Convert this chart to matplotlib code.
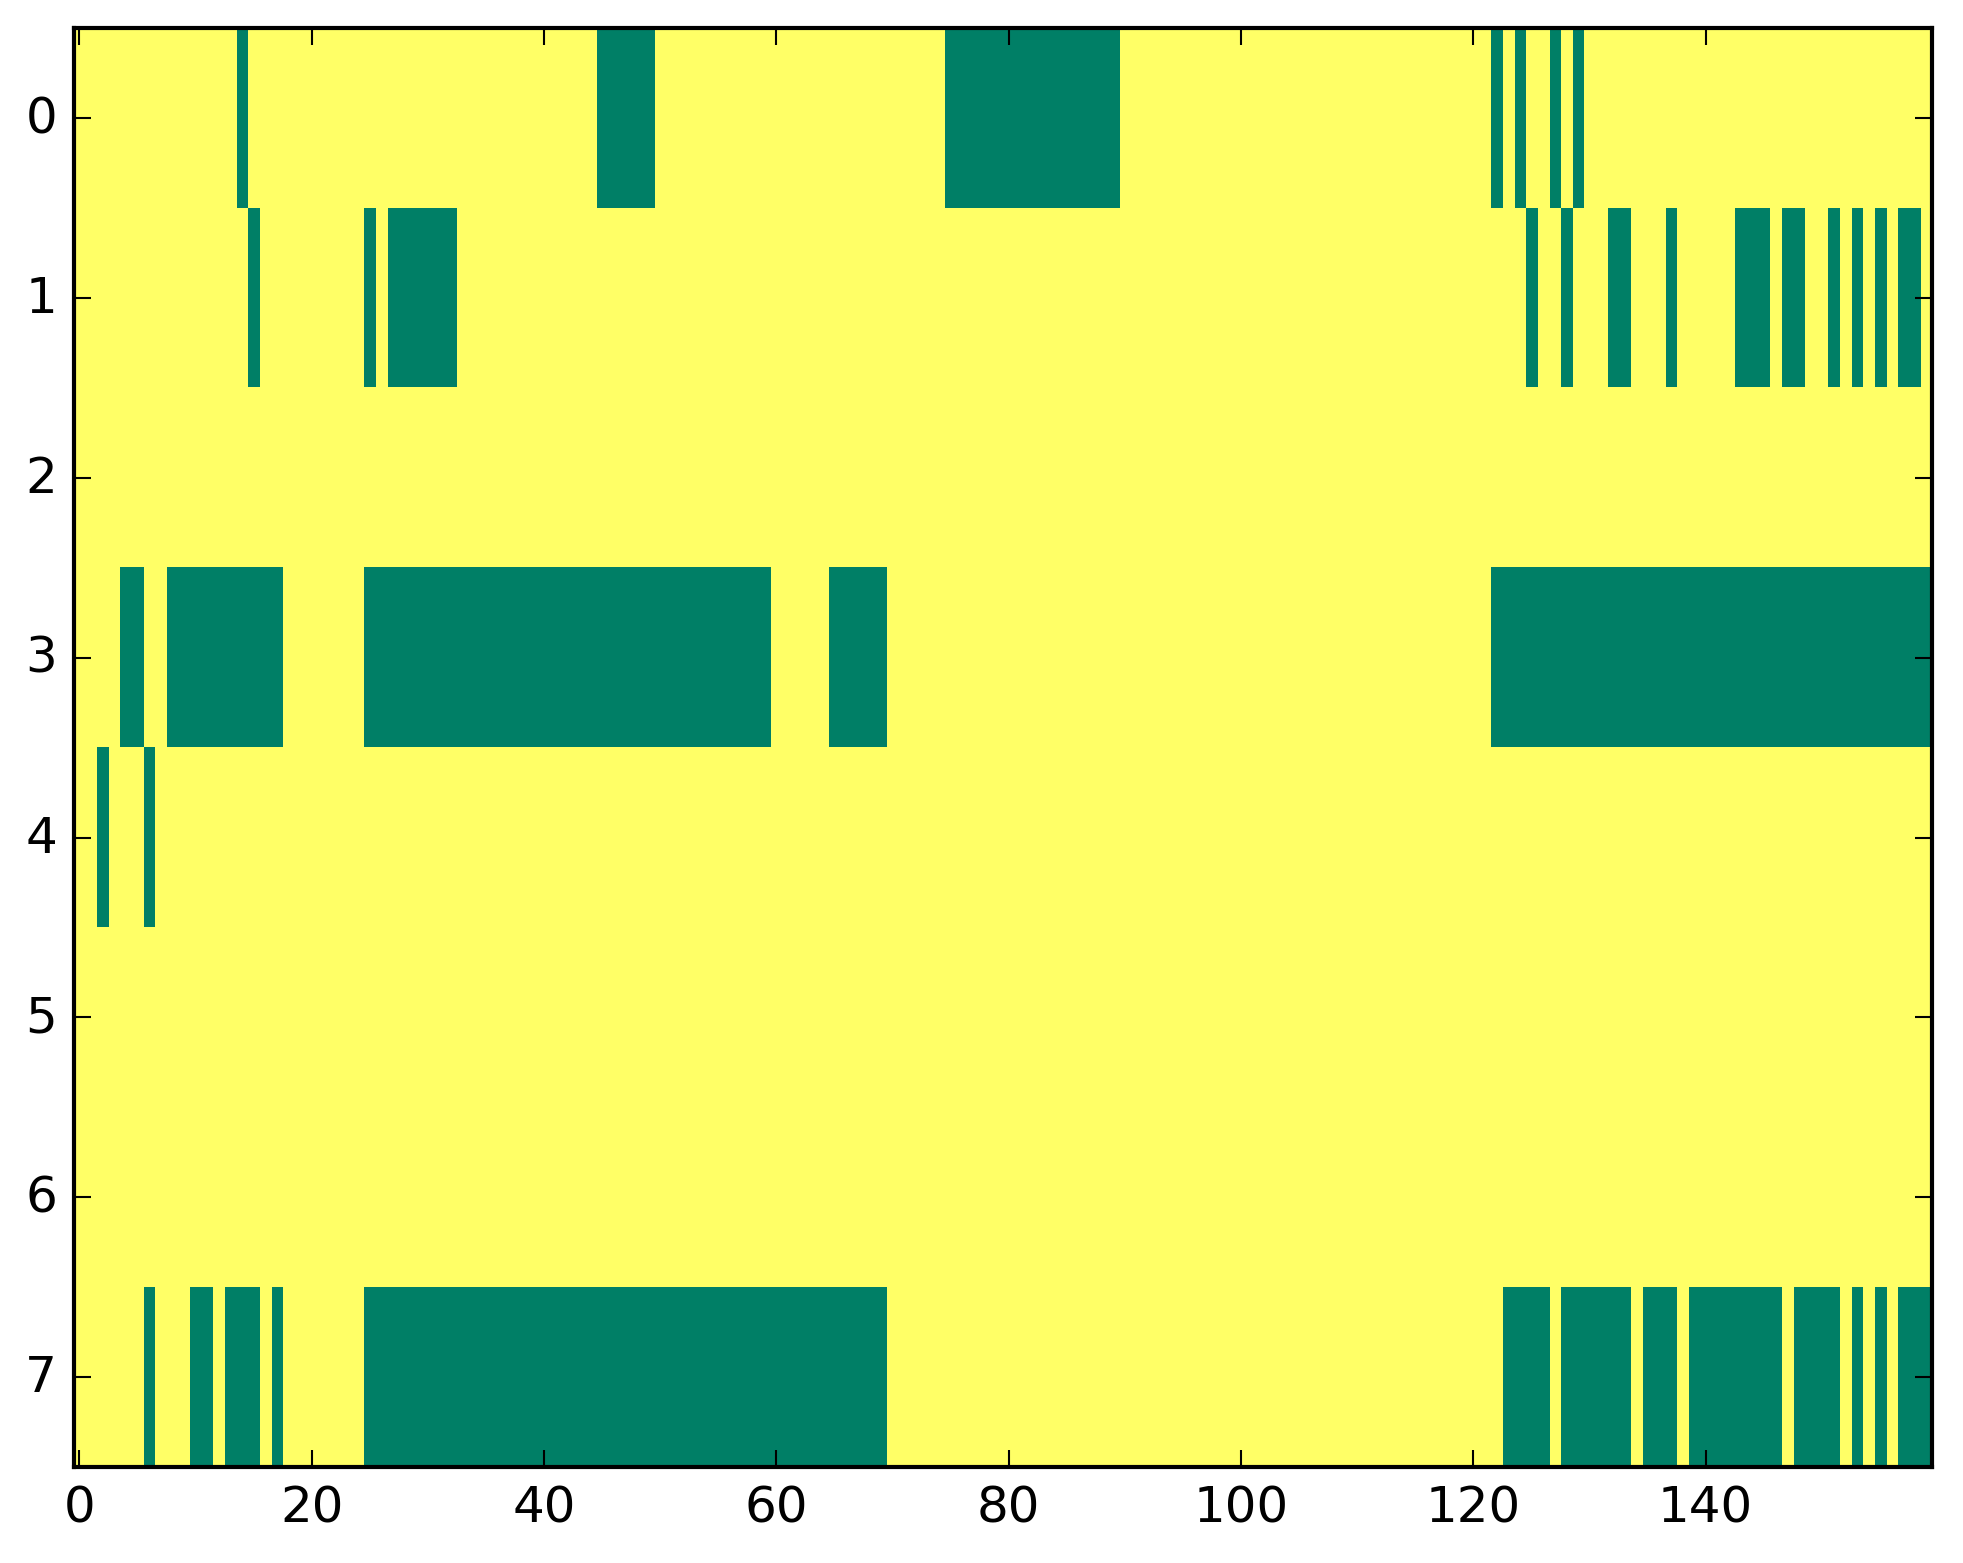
import numpy as np
import matplotlib
matplotlib.use("Agg")
import matplotlib.pyplot as plt

plt.style.use("classic")

n_cols = 160
row_labels = [0, 1, 2, 3, 4, 5, 6, 7]
x_ticks = [0, 20, 40, 60, 80, 100, 120, 140]

# columns where the value is 0 (green), given as inclusive runs (start, end)
row0_zero = [(14, 14), (45, 49), (75, 89), (122, 122), (124, 124), (127, 127), (129, 129)]
row1_zero = [(15, 15), (25, 25), (27, 32), (125, 125), (128, 128), (132, 133), (137, 137),
             (143, 145), (147, 148), (151, 151), (153, 153), (155, 155), (157, 158)]
row2_zero = []
row3_zero = [(4, 5), (8, 17), (25, 59), (65, 69), (122, 159)]
row4_zero = [(2, 2), (6, 6)]
row5_zero = []
row6_zero = []
row7_zero = [(6, 6), (10, 11), (13, 15), (17, 17), (25, 69), (123, 126), (128, 133),
             (135, 137), (139, 146), (148, 151), (153, 153), (155, 155), (157, 159)]

rows = [row0_zero, row1_zero, row2_zero, row3_zero, row4_zero, row5_zero, row6_zero, row7_zero]

data = np.ones((len(rows), n_cols))
for i, runs in enumerate(rows):
    for a, b in runs:
        data[i, a:b + 1] = 0

fig = plt.figure(figsize=(1963 / 300, 1564 / 300), dpi=300)
ax = fig.add_axes([0.03754, 0.0614, 0.9467, 0.9199])
ax.imshow(data, cmap="summer", aspect="auto", interpolation="nearest", vmin=0, vmax=1)
ax.set_xticks(x_ticks)
ax.set_yticks(row_labels)
ax.set_xlim(-0.5, n_cols - 0.5)
ax.set_ylim(len(rows) - 0.5, -0.5)
ax.tick_params(labelsize=12)
fig.savefig("out.png", dpi=300)
